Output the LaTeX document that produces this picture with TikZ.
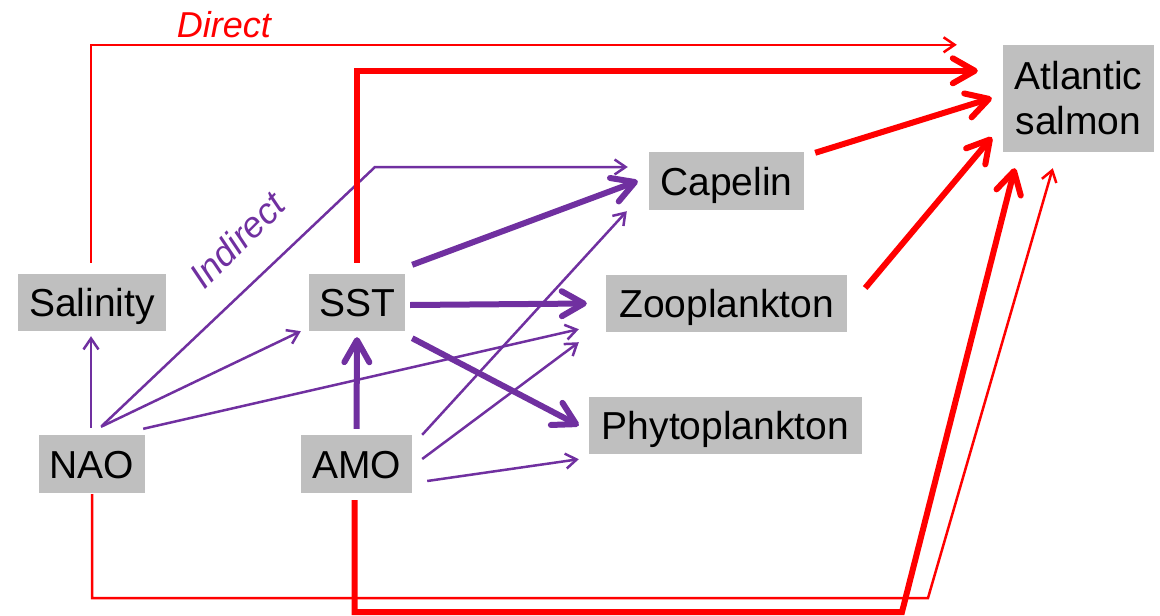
\documentclass[tikz,border=0pt]{standalone}
\usepackage{fontspec}
\setmainfont{Liberation Sans}
\usetikzlibrary{arrows.meta}
\definecolor{pur}{HTML}{7030A0}
\definecolor{boxgray}{HTML}{BFBFBF}
\definecolor{rd}{HTML}{FF0000}
\begin{document}
\begin{tikzpicture}[x=1pt,y=-1pt,
  box/.style={fill=boxgray, inner sep=0pt, font=\fontsize{39}{45}\selectfont, text height=28pt, text depth=0pt},
  thinhead/.style={-{Straight Barb[length=11pt,width=15pt]}},
  thickhead/.style={-{Straight Barb[round,length=22pt,width=25pt]}},
  thinp/.style={draw=pur, line width=2.5pt, thinhead},
  thickp/.style={draw=pur, line width=6pt, thickhead},
  thinr/.style={draw=rd, line width=2.5pt, thinhead},
  thickr/.style={draw=rd, line width=6pt, thickhead},
  lbl/.style={inner sep=0pt, font=\fontsize{36}{40}\selectfont\itshape, text height=26pt, text depth=0pt}
]
\useasboundingbox (0,0) rectangle (1160,616);

% boxes
\node[box, minimum width=148pt, minimum height=57pt] (sal) at (92,302.5) {Salinity};
\node[box, minimum width=96pt, minimum height=57pt] (sst) at (357,302.5) {SST};
\node[box, minimum width=106pt, minimum height=58pt] (nao) at (92,464) {NAO};
\node[box, minimum width=111pt, minimum height=58pt] (amo) at (356.5,464) {AMO};
\node[box, minimum width=155pt, minimum height=58pt] (cap) at (726.5,181) {Capelin};
\node[box, minimum width=241pt, minimum height=57pt] (zoo) at (726.5,303.5) {Zooplankton};
\node[box, minimum width=273pt, minimum height=57pt] (phy) at (725.5,425.5) {Phytoplankton};
\node[box, minimum width=151pt, minimum height=107pt, align=center, text height=, text depth=] (salmon) at (1078.5,98.5) {Atlantic\\salmon};

% labels
\node[lbl, text=rd] (direct) at (224,24.5) {Direct};
\node[lbl, text=pur, rotate=45] (indirect) at (237,240) {Indirect};

% corner coordinates
\coordinate (cornerI) at (375,167);
\coordinate (cornerN) at (928,598);
\coordinate (cornerA) at (902,612);

% purple: indirect
\draw[thinp] ([shift={(-1,-7)}]nao.north) -- ([shift={(-1,5)}]sal.south);
\draw[thinp] ([shift={(9,-8)}]nao.north) -- ([shift={(-8,0)}]sst.south west);
\draw[thinp] ([shift={(10,-9)}]nao.north) -- (cornerI) -- ([shift={(-21,-14)}]cap.west);
\draw[thinp] ([shift={(-2,-6)}]nao.north east) -- ([shift={(-27,-3)}]zoo.south west);
\draw[thickp] ([shift={(0,-6)}]amo.north) -- ([shift={(0,6)}]sst.south);
\draw[thinp] ([shift={(10,0)}]amo.north east) -- ([shift={(-22,1)}]cap.south west);
\draw[thinp] ([shift={(10,-5)}]amo.east) -- ([shift={(-27,10)}]zoo.south west);
\draw[thinp] ([shift={(15,17)}]amo.east) -- ([shift={(-10,5)}]phy.south west);
\draw[thickp] ([shift={(7,-9)}]sst.north east) -- ([shift={(-11,0)}]cap.west);
\draw[thickp] ([shift={(5,2.5)}]sst.east) -- ([shift={(-19,0)}]zoo.west);
\draw[thickp] ([shift={(7,7)}]sst.south east) -- ([shift={(-10,0)}]phy.west);

% red: direct
\draw[thinr] ([shift={(-1,-11)}]sal.north) |- ([shift={(-46,0)}]salmon.north west);
\draw[thickr] ([shift={(0,-11)}]sst.north) |- ([shift={(-25,26)}]salmon.north west);
\draw[thickr] ([shift={(11,1)}]cap.north east) -- ([shift={(-11,-0.5)}]salmon.west);
\draw[thickr] ([shift={(18,-15.5)}]zoo.east) -- ([shift={(-11,-15)}]salmon.south west);
\draw[thinr] ([shift={(0,1)}]nao.south) |- (cornerN) -- ([shift={(50,16)}]salmon.south west);
\draw[thickr] ([shift={(-2,7)}]amo.south) |- (cornerA) -- ([shift={(12,16)}]salmon.south west);
\end{tikzpicture}
\end{document}
